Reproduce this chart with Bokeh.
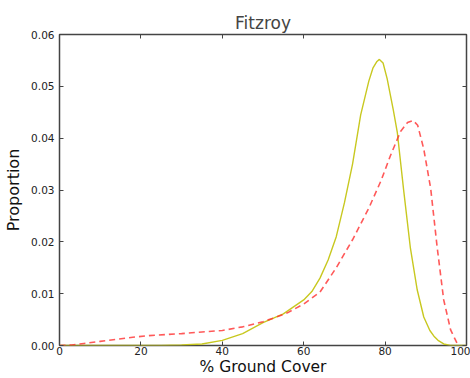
from bokeh.plotting import figure
from bokeh.models import LinearAxis, NumeralTickFormatter, FixedTicker, Range1d
from bokeh.embed import file_html
from bokeh.resources import INLINE

# Data
yellow_x = [0, 10, 20, 25, 30, 35, 40, 45, 50, 55, 60, 62, 64, 66, 68, 70, 72, 74, 76, 77, 78, 78.6,
            79.5, 80.5, 82, 83, 84.6, 86.2, 87.9, 89.5, 91, 92, 93, 94.4, 96, 100]
yellow_y = [0, 0, 0, 0.00003, 0.0001, 0.0003, 0.001, 0.0023, 0.0044, 0.0061, 0.0088, 0.0104, 0.013,
            0.0165, 0.021, 0.0275, 0.035, 0.0445, 0.0510, 0.0535, 0.0548, 0.0552,
            0.0545, 0.0515, 0.0455, 0.0411, 0.0297, 0.0189, 0.0107, 0.0055, 0.0029, 0.0018, 0.0010,
            0.0003, 0.00002, 0]

red_x = [0, 3, 6, 10, 14, 18, 22, 26, 30, 35, 40, 45, 50, 53, 56, 60, 64, 68, 72, 76, 79, 81.3,
         83.8, 85.5, 86.9, 88, 89.5, 91.2, 92.8, 94.4, 96.1, 97.7, 98.3]
red_y = [0, 0.0001, 0.0004, 0.0008, 0.0012, 0.0016, 0.0019, 0.0021, 0.0023, 0.0026, 0.0029, 0.0036,
         0.0046, 0.0054, 0.0063, 0.0080, 0.0103, 0.0150, 0.0204, 0.0265, 0.0318, 0.0366,
         0.0413, 0.0430, 0.0434, 0.0425, 0.0379, 0.0303, 0.0189, 0.0088, 0.003, 0.0004, 0]

x_ticks = [0, 20, 40, 60, 80, 100]
y_ticks = [0.0, 0.01, 0.02, 0.03, 0.04, 0.05, 0.06]

FONT = "DejaVu Sans"
SPINE = "#444444"

p = figure(width=470, height=378, output_backend="svg", toolbar_location=None,
           title="Fitzroy", x_range=Range1d(0, 100), y_range=Range1d(0, 0.06),
           min_border_left=59, min_border_right=4, min_border_top=34, min_border_bottom=10)
p.title.align = "center"
p.title.text_font = FONT
p.title.text_font_size = "17px"
p.title.text_font_style = "normal"
p.title.offset = 0
p.title.standoff = 3

p.grid.visible = False
p.outline_line_color = SPINE
p.outline_line_width = 1.5
p.background_fill_color = "white"
p.border_fill_color = "white"

p.line(yellow_x, yellow_y, line_color="#c8c820", line_width=1.4)
p.line(red_x, red_y, line_color="#ff3030", line_alpha=0.8, line_width=1.6, line_dash="6 4")

for ax in (p.xaxis[0], p.yaxis[0]):
    ax.major_tick_in = 4
    ax.major_tick_out = 0
    ax.minor_tick_line_color = None
    ax.axis_line_color = None
    ax.major_tick_line_color = SPINE
    ax.major_label_text_font = FONT
    ax.major_label_text_font_size = "10.5px"
    ax.major_label_text_color = "#222222"
    ax.axis_label_text_font = FONT
    ax.axis_label_text_font_size = "16px"
    ax.axis_label_text_font_style = "normal"
    ax.axis_label_text_color = "#111111"

p.xaxis[0].ticker = FixedTicker(ticks=x_ticks)
p.yaxis[0].ticker = FixedTicker(ticks=y_ticks)
p.yaxis[0].formatter = NumeralTickFormatter(format="0.00")
p.xaxis[0].axis_label = "% Ground Cover"
p.yaxis[0].axis_label = "Proportion"
p.xaxis[0].major_label_standoff = 1
p.yaxis[0].major_label_standoff = 5
p.xaxis[0].axis_label_standoff = 0
p.yaxis[0].axis_label_standoff = 5
p.xaxis[0].axis_label_text_font_size = "15.5px"

for loc, ticks in (("above", x_ticks), ("right", y_ticks)):
    ax = LinearAxis(ticker=FixedTicker(ticks=ticks), major_label_text_font_size="0px",
                    major_label_standoff=0, major_tick_in=4, major_tick_out=0,
                    minor_tick_line_color=None, axis_line_color=None,
                    major_tick_line_color=SPINE,
                    major_label_overrides={t: "" for t in ticks})
    ax.major_label_text_color = None
    p.add_layout(ax, loc)

open("out.html", "w").write(file_html(p, INLINE))
